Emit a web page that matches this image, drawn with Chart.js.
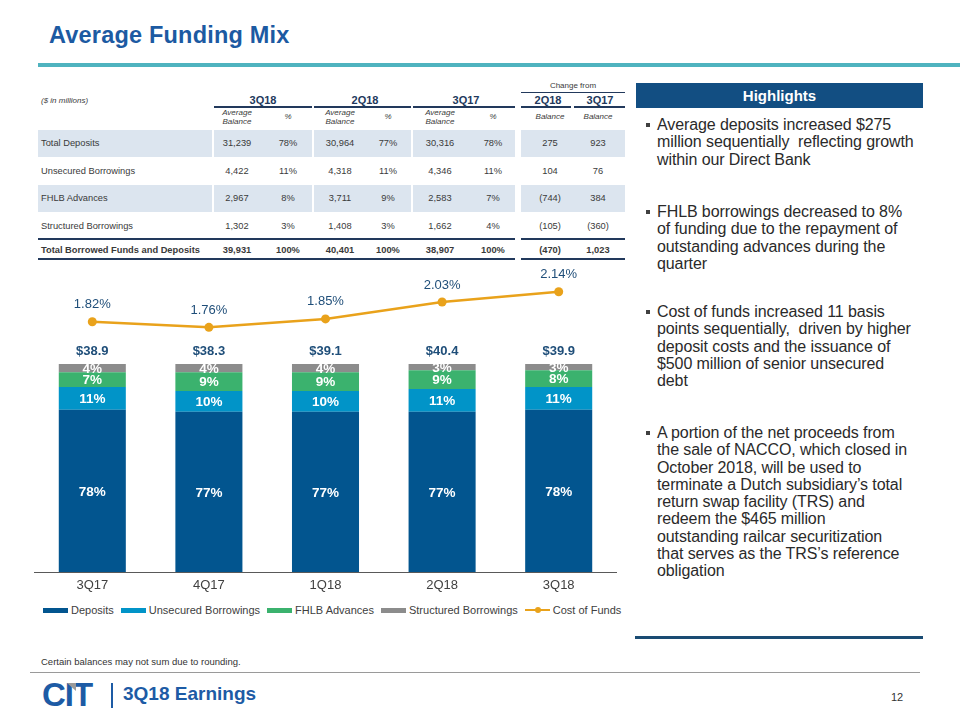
<!DOCTYPE html>
<html><head><meta charset="utf-8">
<script src="https://cdn.jsdelivr.net/npm/chart.js@4.4.1/dist/chart.umd.min.js"></script>
<style>
html,body{margin:0;padding:0;background:#fff;}
body{width:960px;height:720px;position:relative;overflow:hidden;font-family:"Liberation Sans",Arial,sans-serif;}
.a{position:absolute;white-space:nowrap;}
.hl{position:absolute;left:657px;font-size:16px;line-height:17.3px;color:#2a2a2a;white-space:nowrap;letter-spacing:-0.1px;}
.hl:before{content:"";position:absolute;left:-11px;top:7px;width:4px;height:4px;background:#404040;}
.lg{display:flex;align-items:center;margin-right:7px;}
.lg i{display:inline-block;width:25px;height:5px;margin-right:3px;}
</style></head><body>

<div class="a" style="left:49px;top:20px;font-size:23.5px;font-weight:bold;color:#1C5AA2;line-height:30px;letter-spacing:0.2px;">Average Funding Mix</div>
<div class="a" style="left:38px;top:63px;width:922px;height:4px;background:#4FB3BF"></div>

<div id="tbl"></div>

<div class="a" style="left:34px;top:262px;width:583px;height:338px;"><canvas id="c"></canvas></div>

<div id="legend" class="a" style="left:43px;top:603px;height:14px;display:flex;font-size:11px;color:#404040;"></div>

<!-- Highlights panel -->
<div class="a" style="left:636px;top:83px;width:287px;height:25px;background:#124E82;color:#fff;font-weight:bold;font-size:15px;line-height:25px;text-align:center;">Highlights</div>
<div class="hl" style="top:116px;">Average deposits increased $275<br>million sequentially&nbsp; reflecting growth<br>within our Direct Bank</div>
<div class="hl" style="top:203px;">FHLB borrowings decreased to 8%<br>of funding due to the repayment of<br>outstanding advances during the<br>quarter</div>
<div class="hl" style="top:303px;">Cost of funds increased 11 basis<br>points sequentially,&nbsp; driven by higher<br>deposit costs and the issuance of<br>$500 million of senior unsecured<br>debt</div>
<div class="hl" style="top:424px;">A portion of the net proceeds from<br>the sale of NACCO, which closed in<br>October 2018, will be used to<br>terminate a Dutch subsidiary’s total<br>return swap facility (TRS) and<br>redeem the $465 million<br>outstanding railcar securitization<br>that serves as the TRS’s reference<br>obligation</div>
<div class="a" style="left:635px;top:636px;width:288px;height:3px;background:#1A4B73;"></div>

<!-- Footer -->
<div class="a" style="left:41px;top:656px;font-size:9.5px;color:#333;line-height:12px;">Certain balances may not sum due to rounding.</div>
<div class="a" style="left:30px;top:672px;width:890px;height:1px;background:#9a9a9a;"></div>
<div class="a" style="left:42px;top:676px;font-size:33px;font-weight:bold;color:#1D5BA5;line-height:38px;letter-spacing:-1px;">CIT</div>
<div class="a" style="left:67px;top:683px;width:0;height:0;border-left:9px solid transparent;border-top:8px solid #9a9a9a;"></div>
<div class="a" style="left:111px;top:683px;width:2px;height:25px;background:#1D5BA5;"></div>
<div class="a" style="left:123px;top:682px;font-size:19px;font-weight:bold;color:#1D5BA5;line-height:24px;">3Q18 Earnings</div>
<div class="a" style="left:891px;top:690px;font-size:11px;color:#333;line-height:14px;">12</div>

<script>
// ---------- Chart data ----------
const quarters = ['3Q17', '4Q17', '1Q18', '2Q18', '3Q18'];
const depositsPct = [78, 77, 77, 77, 78];
const unsecuredPct = [11, 10, 10, 11, 11];
const fhlbPct = [7, 9, 9, 9, 8];
const structuredPct = [4, 4, 4, 3, 3];
const totalFunding = [38.9, 38.3, 39.1, 40.4, 39.9];
const costOfFunds = [1.82, 1.76, 1.85, 2.03, 2.14];

// ---------- Table data ----------
const rowLabels = ['Total Deposits', 'Unsecured Borrowings', 'FHLB Advances', 'Structured Borrowings', 'Total Borrowed Funds and Deposits'];
const bal3Q18 = ['31,239', '4,422', '2,967', '1,302', '39,931'];
const pct3Q18 = ['78%', '11%', '8%', '3%', '100%'];
const bal2Q18 = ['30,964', '4,318', '3,711', '1,408', '40,401'];
const pct2Q18 = ['77%', '11%', '9%', '3%', '100%'];
const bal3Q17 = ['30,316', '4,346', '2,583', '1,662', '38,907'];
const pct3Q17 = ['78%', '11%', '7%', '4%', '100%'];
const chg2Q18 = ['275', '104', '(744)', '(105)', '(470)'];
const chg3Q17 = ['923', '76', '384', '(360)', '1,023'];
const groupHeads = ['3Q18', '2Q18', '3Q17', '2Q18', '3Q17'];

// ---------- Build table ----------
const T = document.getElementById('tbl');
function box(x, y, w, h, bg) {
  const d = document.createElement('div'); d.className = 'a';
  d.style.cssText += `left:${x}px;top:${y}px;width:${w}px;height:${h}px;background:${bg};`;
  T.appendChild(d);
}
function tx(x, y, s, o) {
  o = o || {};
  const d = document.createElement('div'); d.className = 'a';
  d.innerHTML = s;
  d.style.cssText += `left:${x}px;top:${y}px;font-size:${o.size || 9.3}px;line-height:${o.lh || 1};` +
    `font-weight:${o.bold ? 'bold' : 'normal'};font-style:${o.italic ? 'italic' : 'normal'};color:${o.color || '#3a3a3a'};` +
    `text-align:center;transform:translate(${o.left ? '0' : '-50%'},-50%);`;
  T.appendChild(d);
}
const colSegs = [[38, 174], [214, 98], [314, 97], [413, 102], [521, 104]];
const shade = '#DCE5EF';
[[130, 27], [185, 27]].forEach(([y, h]) => colSegs.forEach(([x, w]) => box(x, y, w, h, shade)));
const navy = '#22395C';
[[214, 98], [314, 97], [413, 102], [521, 50], [574, 51]].forEach(([x, w]) => box(x, 106, w, 2, navy));
box(521, 92, 104, 1, navy);
box(38, 238, 477, 2, navy); box(521, 238, 104, 2, navy);
box(38, 258, 477, 1.5, navy); box(521, 258, 104, 1.5, navy);

tx(41, 101, '($ in millions)', { size: 8, italic: true, left: true });
tx(573, 86, 'Change from', { size: 8 });
const headX = [263, 365, 466, 548, 600];
groupHeads.forEach((h, i) => tx(headX[i], 100, h, { size: 11, bold: true, color: navy }));
[237, 340, 440].forEach(x => tx(x, 117, 'Average<br>Balance', { size: 8, italic: true, lh: 1.15 }));
[288, 388, 493].forEach(x => tx(x, 117, '%', { size: 8, italic: true }));
[550, 598].forEach(x => tx(x, 117, 'Balance', { size: 8, italic: true }));

const rowY = [144, 172, 199, 227, 251];
const cols = [bal3Q18, pct3Q18, bal2Q18, pct2Q18, bal3Q17, pct3Q17, chg2Q18, chg3Q17];
const colX = [237, 288, 340, 388, 440, 493, 550, 598];
rowLabels.forEach((lab, r) => {
  const bold = r === rowLabels.length - 1;
  tx(41, rowY[r], lab, { left: true, bold });
  cols.forEach((c, k) => tx(colX[k], rowY[r], c[r], { bold }));
});

// ---------- Legend ----------
const legendItems = [
  ['Deposits', '#02558F', 'box'], ['Unsecured Borrowings', '#0194C8', 'box'],
  ['FHLB Advances', '#3BB26E', 'box'], ['Structured Borrowings', '#8C8C8C', 'box'],
  ['Cost of Funds', '#E9A21B', 'line']];
const L = document.getElementById('legend');
legendItems.forEach(([n, c, t]) => {
  const s = document.createElement('span'); s.className = 'lg';
  if (t === 'box') s.innerHTML = `<i style="background:${c}"></i>${n}`;
  else s.innerHTML = `<i style="height:2px;background:${c};position:relative;"><b style="position:absolute;left:10px;top:-2px;width:6px;height:6px;border-radius:50%;background:${c}"></b></i>${n}`;
  L.appendChild(s);
});

// ---------- Chart ----------
const FONT = '"Liberation Sans", Arial, sans-serif';
const labelPlugin = {
  id: 'labels',
  afterDatasetsDraw(chart) {
    const ctx = chart.ctx;
    ctx.save();
    ctx.textAlign = 'center'; ctx.textBaseline = 'middle';
    for (let i = 1; i <= 4; i++) {
      const meta = chart.getDatasetMeta(i);
      const data = chart.data.datasets[i].data;
      ctx.font = `bold 13.5px ${FONT}`; ctx.fillStyle = '#ffffff';
      meta.data.forEach((el, j) => ctx.fillText(data[j] + '%', el.x, (el.y + el.base) / 2 + 1));
    }
    const top = chart.getDatasetMeta(4);
    ctx.font = `bold 13px ${FONT}`; ctx.fillStyle = '#1F4E79';
    top.data.forEach((el, j) => ctx.fillText('$' + totalFunding[j].toFixed(1), el.x, el.y - 13));
    const lm = chart.getDatasetMeta(0);
    ctx.font = `13px ${FONT}`; ctx.fillStyle = '#1F4E79';
    lm.data.forEach((el, j) => ctx.fillText(costOfFunds[j].toFixed(2) + '%', el.x, el.y - 17));
    ctx.restore();
  }
};

new Chart(document.getElementById('c'), {
  type: 'bar',
  data: {
    labels: quarters,
    datasets: [
      { type: 'line', label: 'Cost of Funds', data: costOfFunds, yAxisID: 'y2', borderColor: '#E9A21B', backgroundColor: '#E9A21B',
        borderWidth: 2.5, pointRadius: 4.5, pointHoverRadius: 4.5, pointBorderWidth: 0, tension: 0, order: 0 },
      { label: 'Deposits', data: depositsPct, backgroundColor: '#02558F', order: 1 },
      { label: 'Unsecured Borrowings', data: unsecuredPct, backgroundColor: '#0194C8', order: 1 },
      { label: 'FHLB Advances', data: fhlbPct, backgroundColor: '#3BB26E', order: 1 },
      { label: 'Structured Borrowings', data: structuredPct, backgroundColor: '#8C8C8C', order: 1 }
    ]
  },
  options: {
    responsive: true, maintainAspectRatio: false, animation: false,
    layout: { padding: 0, autoPadding: false },
    plugins: { legend: { display: false }, tooltip: { enabled: false } },
    datasets: { bar: { categoryPercentage: 1, barPercentage: 0.575 } },
    scales: {
      x: { stacked: true, grid: { display: false, drawTicks: false }, border: { display: true, color: '#595959', width: 1 },
           ticks: { color: '#404040', font: { family: FONT, size: 13 }, padding: 6 },
           afterFit: s => { s.height = 28; } },
      y: { stacked: true, display: false, min: 0, max: 149.04 },
      y2: { display: false, min: -0.850, max: 2.457 }
    }
  },
  plugins: [labelPlugin]
});
</script>
</body></html>
